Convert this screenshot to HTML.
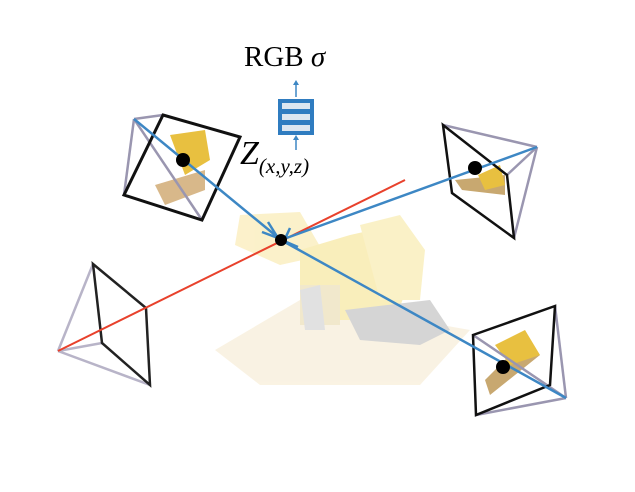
<!DOCTYPE html>
<html><head><style>
body{margin:0;background:#fff;width:635px;height:487px;overflow:hidden}
</style></head><body>
<svg width="635" height="487" viewBox="0 0 635 487" xmlns="http://www.w3.org/2000/svg">
<!-- faded loader -->
<g opacity="0.35">
<polygon points="215,350 300,300 470,330 420,385 260,385" fill="#f0dcb0"/>
<polygon points="240,215 300,212 325,255 280,265 235,245" fill="#f5d86a"/>
<polygon points="300,250 350,235 395,225 410,280 395,320 330,320 300,300" fill="#f0d040"/>
<polygon points="360,225 400,215 425,250 420,300 380,300" fill="#f2d860"/>
<rect x="300" y="285" width="40" height="40" fill="#d8c070"/>
<polygon points="345,310 430,300 450,330 420,345 360,340" fill="#888"/>
<polygon points="300,290 320,285 325,330 305,330" fill="#aaa"/>
</g>
<!-- bottom-left camera -->
<g fill="none" stroke-width="2.5">
<line x1="58" y1="351" x2="93" y2="264" stroke="#b8b4c8"/>
<line x1="58" y1="351" x2="102" y2="343" stroke="#b8b4c8"/>
<line x1="58" y1="351" x2="150" y2="385" stroke="#b8b4c8"/>
<polygon points="93,264 146,308 150,385 102,343" stroke="#222"/>
</g>
<line x1="58" y1="351" x2="405" y2="180" stroke="#e8412c" stroke-width="2"/>
<!-- top-left camera -->
<g fill="none" stroke-width="2.5">
<polygon points="155,185 205,170 205,190 165,205" fill="#d8b88a" stroke="none"/>
<polygon points="170,135 205,130 210,160 185,175" fill="#e8c040" stroke="none"/>
<line x1="134" y1="119" x2="163" y2="115" stroke="#9a96b0"/>
<line x1="134" y1="119" x2="124" y2="195" stroke="#9a96b0"/>
<line x1="134" y1="119" x2="202" y2="220" stroke="#9a96b0"/>
<polygon points="163,115 240,137 202,220 124,195" stroke="#111" stroke-width="3"/>
</g>
<!-- top-right camera -->
<g fill="none" stroke-width="2.5">
<polygon points="455,180 505,175 505,195 462,190" fill="#c8a870" stroke="none"/>
<polygon points="478,175 500,165 505,185 485,190" fill="#e8c040" stroke="none"/>
<line x1="443" y1="125" x2="537" y2="147" stroke="#9a96b0"/>
<line x1="507" y1="175" x2="537" y2="147" stroke="#9a96b0"/>
<line x1="514" y1="238" x2="537" y2="147" stroke="#9a96b0"/>
<polygon points="443,125 507,175 514,238 452,193" stroke="#111"/>
</g>
<!-- bottom-right camera -->
<g fill="none" stroke-width="2.5">
<polygon points="485,380 520,345 540,355 490,395" fill="#c8a870" stroke="none"/>
<polygon points="495,345 525,330 540,355 510,365" fill="#e8c040" stroke="none"/>
<line x1="473" y1="335" x2="566" y2="398" stroke="#9a96b0"/>
<line x1="555" y1="306" x2="566" y2="398" stroke="#9a96b0"/>
<line x1="476" y1="415" x2="566" y2="398" stroke="#9a96b0"/>
<polygon points="473,335 555,306 550,385 476,415" stroke="#111"/>
</g>
<!-- blue rays -->
<g stroke="#3d87c4" stroke-width="2.5" fill="none">
<line x1="134" y1="119" x2="281" y2="240"/>
<line x1="537" y1="147" x2="281" y2="240"/>
<line x1="281" y1="240" x2="566" y2="398"/>
<polyline points="262,232 278,238 268,222"/>
<polyline points="290,228 284,241 298,247"/>
</g>
<circle cx="281" cy="240" r="6" fill="#000"/>
<circle cx="183" cy="160" r="7" fill="#000"/>
<circle cx="475" cy="168" r="7" fill="#000"/>
<circle cx="503" cy="367" r="7" fill="#000"/>
<!-- MLP icon -->
<g>
<line x1="296" y1="97" x2="296" y2="84" stroke="#3d87c4" stroke-width="1.5"/>
<polygon points="293,85 299,85 296,80" fill="#3d87c4"/>
<line x1="296" y1="150" x2="296" y2="139" stroke="#3d87c4" stroke-width="1.5"/>
<polygon points="293,140 299,140 296,135" fill="#3d87c4"/>
<rect x="278" y="99" width="36" height="36" fill="#2f7cc0"/>
<rect x="282" y="103" width="28" height="6" fill="#dce6f0"/>
<rect x="282" y="114" width="28" height="6" fill="#dce6f0"/>
<rect x="282" y="125" width="28" height="6" fill="#dce6f0"/>
</g>
<text x="244" y="66" font-family="Liberation Serif, serif" font-size="29">RGB <tspan font-style="italic">σ</tspan></text>
<text x="240" y="164" font-family="Liberation Serif, serif" font-size="34" font-style="italic">Z<tspan font-size="21" dy="9">(x,y,z)</tspan></text>
</svg>
</body></html>
